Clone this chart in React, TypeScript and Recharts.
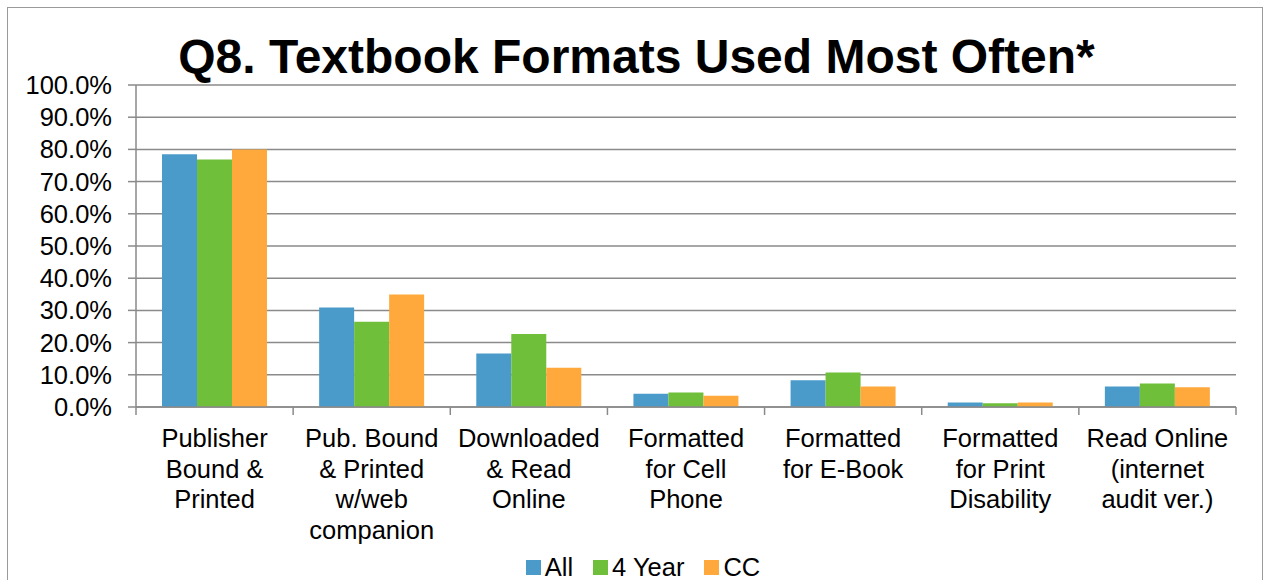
import React from "react";
import { BarChart, Bar, XAxis, YAxis, CartesianGrid, Legend } from "recharts";

const categories = [
  "Publisher\nBound &\nPrinted",
  "Pub. Bound\n& Printed\nw/web\ncompanion",
  "Downloaded\n& Read\nOnline",
  "Formatted\nfor Cell\nPhone",
  "Formatted\nfor E-Book",
  "Formatted\nfor Print\nDisability",
  "Read Online\n(internet\naudit ver.)",
];
const allValues = [78.5, 30.9, 16.6, 4.1, 8.3, 1.4, 6.4];
const fourYearValues = [76.9, 26.5, 22.7, 4.5, 10.7, 1.2, 7.3];
const ccValues = [80.0, 34.9, 12.2, 3.5, 6.4, 1.4, 6.1];
const yTicks = [0, 10, 20, 30, 40, 50, 60, 70, 80, 90, 100];

const series = [
  { key: "all", name: "All", color: "#4A9BCA" },
  { key: "fourYear", name: "4 Year", color: "#70BF3A" },
  { key: "cc", name: "CC", color: "#FFA83B" },
];

const data = categories.map((c, i) => ({
  name: c,
  all: allValues[i],
  fourYear: fourYearValues[i],
  cc: ccValues[i],
}));

const W = 1264;
const H = 580;
const PLOT_LEFT = 136;
const PLOT_RIGHT = 1236;
const BAND = (PLOT_RIGHT - PLOT_LEFT) / categories.length;
const FONT = "'Liberation Sans', Arial, sans-serif";
const GRID = "#8a8a8a";

const XTick = (props: any) => {
  const { x, y, payload, index } = props;
  const lines = String(payload.value).split("\n");
  const axisY = y - 8;
  return (
    <g>
      <line x1={x - BAND / 2} x2={x - BAND / 2} y1={axisY} y2={axisY + 8} stroke={GRID} strokeWidth={1.5} />
      {index === categories.length - 1 && (
        <line x1={x + BAND / 2} x2={x + BAND / 2} y1={axisY} y2={axisY + 8} stroke={GRID} strokeWidth={1.5} />
      )}
      <text x={x} y={axisY + 40} textAnchor="middle" fontSize={25.5} fill="#000" fontFamily={FONT}>
        {lines.map((l, i) => (
          <tspan key={i} x={x} dy={i === 0 ? 0 : 30.5}>
            {l}
          </tspan>
        ))}
      </text>
    </g>
  );
};

const LegendContent = () => (
  <div
    style={{
      width: W,
      height: 30,
      display: "flex",
      justifyContent: "center",
      alignItems: "center",
      paddingLeft: 42,
      paddingTop: 4,
      boxSizing: "border-box",
      fontFamily: FONT,
      fontSize: 25.5,
      color: "#000",
    }}
  >
    {series.map((s) => (
      <div key={s.key} style={{ display: "flex", alignItems: "center", marginRight: 20 }}>
        <span style={{ width: 15, height: 15, background: s.color, display: "inline-block", marginRight: 4 }} />
        <span>{s.name}</span>
      </div>
    ))}
  </div>
);

export default function App() {
  return (
    <div style={{ position: "absolute", left: 0, top: 0, width: W, height: H, background: "#fff", overflow: "hidden" }}>
      <div
        style={{
          position: "absolute",
          left: 0,
          width: W,
          top: 30,
          textAlign: "center",
          paddingLeft: 9,
          boxSizing: "border-box",
          fontFamily: FONT,
          fontWeight: "bold",
          fontSize: 48,
          lineHeight: "54px",
          color: "#000",
        }}
      >
        Q8. Textbook Formats Used Most Often*
      </div>
      <div style={{ position: "absolute", left: 0, top: 0 }}>
        <BarChart
          width={W}
          height={H}
          data={data}
          margin={{ top: 85, right: W - PLOT_RIGHT, left: 0, bottom: 0 }}
          barCategoryGap={26}
          barGap={0}
        >
          <CartesianGrid vertical={false} stroke={GRID} strokeWidth={1.5} />
          <XAxis
            dataKey="name"
            interval={0}
            height={143}
            tickLine={false}
            axisLine={{ stroke: GRID, strokeWidth: 1.5 }}
            tick={<XTick />}
          />
          <YAxis
            type="number"
            domain={[0, 100]}
            ticks={yTicks}
            interval={0}
            width={PLOT_LEFT}
            tickSize={8}
            tickMargin={16}
            tickLine={{ stroke: GRID, strokeWidth: 1.5 }}
            axisLine={{ stroke: GRID, strokeWidth: 1.5 }}
            tickFormatter={(v: number) => v.toFixed(1) + "%"}
            tick={{ fontSize: 25.5, fill: "#000", fontFamily: FONT }}
          />
          <Legend verticalAlign="bottom" height={30} wrapperStyle={{ left: 0, width: W }} content={<LegendContent />} />
          {series.map((s) => (
            <Bar key={s.key} dataKey={s.key} name={s.name} fill={s.color} isAnimationActive={false} />
          ))}
        </BarChart>
      </div>
      <div
        style={{
          position: "absolute",
          left: 7,
          top: 7,
          width: 1256,
          height: 600,
          border: "1.5px solid #9a9a9a",
          boxSizing: "border-box",
          pointerEvents: "none",
        }}
      />
    </div>
  );
}
